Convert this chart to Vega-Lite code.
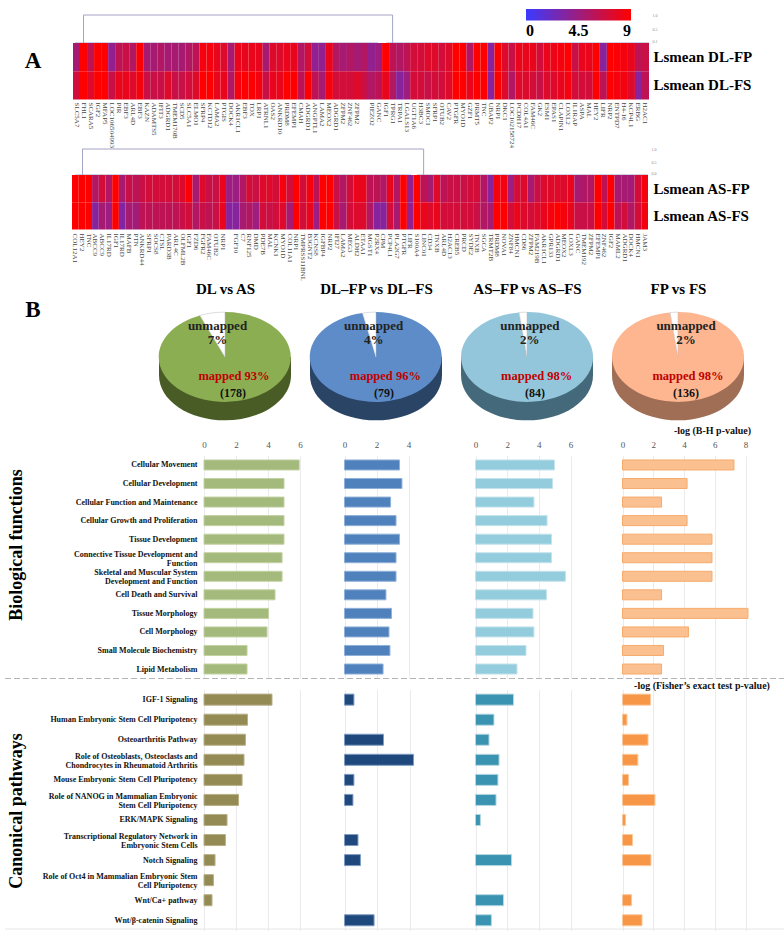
{"$schema":"https://vega.github.io/schema/vega-lite/v6.json","width":784,"height":932,"padding":0,"autosize":{"type":"none"},"background":"white",
"config":{"view":{"stroke":null},"font":"Liberation Serif","axis":{"domain":false,"ticks":false,"tickSize":0,"grid":false,"labelFont":"Liberation Serif","titleFont":"Liberation Serif","labelOverlap":false,"labelBound":false,"labelFlush":false,"labelLimit":400}},
"datasets":{
"dendA":[{"x":1.5,"x2":45.5,"h":1,"h2":1},{"x":1.5,"x2":1.5,"h":0,"h2":1},{"x":45.5,"x2":45.5,"h":0,"h2":1},{"x":0.3,"x2":43.4,"h":0,"h2":0},{"x":44.6,"x2":82,"h":0,"h2":0}],
"dendB":[{"x":1.57,"x2":52.5,"h":1,"h2":1},{"x":1.57,"x2":1.57,"h":0,"h2":1},{"x":52.5,"x2":52.5,"h":0,"h2":1},{"x":0.45,"x2":50.6,"h":0,"h2":0},{"x":51.5,"x2":86,"h":0,"h2":0}],
"heatA":[{"gene":"SLC5A7","FP":5,"FS":7},{"gene":"FHL1","FP":9,"FS":9},{"gene":"SCARA5","FP":6,"FS":7.5},{"gene":"IGF2","FP":9,"FS":9},{"gene":"MFAP5","FP":9,"FS":9},{"gene":"LOC106504993","FP":4,"FS":6.5},{"gene":"PIR","FP":6,"FS":8},{"gene":"EBF3","FP":6.5,"FS":8},{"gene":"ARL4D","FP":5.5,"FS":7.5},{"gene":"EBF3_2","FP":8.8,"FS":8.5},{"gene":"KAZN","FP":5,"FS":6.5},{"gene":"ADAMTS5","FP":5,"FS":6.5},{"gene":"IFIT3","FP":5.5,"FS":6.5},{"gene":"ADGRD1","FP":5,"FS":7.5},{"gene":"TMEM170B","FP":5,"FS":6.5},{"gene":"SCD5","FP":5,"FS":6.5},{"gene":"SLC5A1","FP":5.5,"FS":7},{"gene":"ELMO1","FP":6,"FS":7.5},{"gene":"SFRP4","FP":8.5,"FS":9},{"gene":"KCTD12","FP":8.5,"FS":9},{"gene":"LAMA2","FP":8,"FS":8},{"gene":"PTGIS","FP":7.5,"FS":8},{"gene":"DOCK4","FP":5,"FS":5.5},{"gene":"AKR1CL1","FP":8,"FS":8.5},{"gene":"EBF3_3","FP":8,"FS":9},{"gene":"TOX","FP":8,"FS":8.8},{"gene":"LRP1","FP":8,"FS":8.5},{"gene":"ATRNL1","FP":5,"FS":6.5},{"gene":"OAS2","FP":7.5,"FS":8},{"gene":"ANKRD10","FP":7.5,"FS":8},{"gene":"PRDM8","FP":8,"FS":9},{"gene":"EFEMP1","FP":8,"FS":9},{"gene":"CMAH","FP":5.5,"FS":6},{"gene":"ADGRD1_2","FP":7,"FS":9},{"gene":"ANGPTL1","FP":4,"FS":6},{"gene":"LAMA2_2","FP":4,"FS":5},{"gene":"MEOX2","FP":8,"FS":8.5},{"gene":"ADGRD1_3","FP":5.5,"FS":7},{"gene":"ZFPM2","FP":5,"FS":7},{"gene":"ZNF462","FP":5.5,"FS":7},{"gene":"ZFPM2_2","FP":5,"FS":7.5},{"gene":"_1","FP":5.5,"FS":6.5},{"gene":"PIEZO2","FP":4,"FS":5.5},{"gene":"GANC","FP":4.5,"FS":6},{"gene":"IGF1","FP":9,"FS":8},{"gene":"TPRG1","FP":6,"FS":5.5},{"gene":"TRPA1","FP":5.5,"FS":3.5},{"gene":"LGALS13","FP":6,"FS":4.5},{"gene":"UGT1A6","FP":7,"FS":7},{"gene":"H3BC3","FP":7,"FS":7},{"gene":"SMOC1","FP":7.5,"FS":6.5},{"gene":"SFRP1","FP":7.5,"FS":7},{"gene":"OTUB2","FP":7,"FS":7},{"gene":"CAV2","FP":7.5,"FS":7.5},{"gene":"PTGFR","FP":9,"FS":9},{"gene":"MYO1D","FP":9,"FS":9},{"gene":"GZF1","FP":5.5,"FS":8},{"gene":"PRMT5","FP":9,"FS":9},{"gene":"TNC","FP":9,"FS":9},{"gene":"UBAP2","FP":3.5,"FS":3.5},{"gene":"NRP1","FP":9,"FS":9},{"gene":"DKC1","FP":7.5,"FS":7.5},{"gene":"LOC102158724","FP":6.5,"FS":5.5},{"gene":"PCDH17","FP":8,"FS":7.5},{"gene":"COL4A1","FP":8,"FS":7.5},{"gene":"FAM46C","FP":8,"FS":7},{"gene":"GK2","FP":7,"FS":6.5},{"gene":"ESM1","FP":8,"FS":7.5},{"gene":"EPAS1","FP":8.2,"FS":7.5},{"gene":"CLAPIN1","FP":8.5,"FS":8},{"gene":"LOXL2","FP":9,"FS":8.5},{"gene":"IL1RAP","FP":6.5,"FS":7},{"gene":"ASPA","FP":8,"FS":7},{"gene":"MAL","FP":8,"FS":7},{"gene":"HEY2","FP":9,"FS":9},{"gene":"LIFR","FP":3.5,"FS":6},{"gene":"NRP2","FP":9,"FS":9},{"gene":"ENTPD7","FP":8.8,"FS":8.5},{"gene":"H4-16","FP":8.5,"FS":8.5},{"gene":"KCP4L1","FP":8,"FS":7.5},{"gene":"ERBG","FP":6,"FS":3.5},{"gene":"H2AC1","FP":6.5,"FS":6}],
"heatB":[{"gene":"COL12A1","FP":9,"FS":9},{"gene":"HEY2","FP":9,"FS":9},{"gene":"TNC","FP":9,"FS":9},{"gene":"ABCC9","FP":5.5,"FS":3.5},{"gene":"ABCC9_2","FP":7,"FS":5},{"gene":"IL17RD","FP":5.5,"FS":4.5},{"gene":"IGF1","FP":9,"FS":9},{"gene":"IL17RD_2","FP":5,"FS":3.3},{"gene":"MAFB","FP":6.5,"FS":5},{"gene":"PTN","FP":6,"FS":4.8},{"gene":"ANKRD44","FP":6.5,"FS":6},{"gene":"SFRP1","FP":7,"FS":6},{"gene":"SOCS8","FP":7,"FS":6},{"gene":"CTSL","FP":7,"FS":6},{"gene":"PARD3B","FP":7,"FS":6},{"gene":"ARL4C","FP":7,"FS":6},{"gene":"OLFML2B","FP":7.5,"FS":6.5},{"gene":"IGF1_2","FP":8.8,"FS":7},{"gene":"FZD6","FP":5,"FS":5.5},{"gene":"FGFR2","FP":7.5,"FS":6.5},{"gene":"FAM46C","FP":6.5,"FS":6},{"gene":"OTUB2","FP":6.5,"FS":6.5},{"gene":"NRP1","FP":8,"FS":8},{"gene":"_1","FP":4.5,"FS":3.5},{"gene":"FGF10","FP":4.5,"FS":3.5},{"gene":"C7","FP":5.5,"FS":5},{"gene":"RNF125","FP":7,"FS":5.5},{"gene":"DMD","FP":6.5,"FS":4.5},{"gene":"PDE7B","FP":7.5,"FS":7},{"gene":"MAL","FP":7.5,"FS":6.5},{"gene":"KCNK1","FP":7,"FS":7},{"gene":"MYO1D","FP":8.5,"FS":7.5},{"gene":"COL11A1","FP":7,"FS":5},{"gene":"NRP1_2","FP":9,"FS":9},{"gene":"TMPRSS11BNL","FP":7,"FS":7},{"gene":"B3GNT2","FP":8.5,"FS":8},{"gene":"KCNS8","FP":6,"FS":4.5},{"gene":"IGFBP4","FP":9,"FS":9},{"gene":"NRP2","FP":9,"FS":9},{"gene":"IFI27","FP":6.5,"FS":6.5},{"gene":"LAMA2","FP":5.5,"FS":5},{"gene":"MEG3","FP":7,"FS":7},{"gene":"ALDH2","FP":8,"FS":7.5},{"gene":"ETAA1","FP":8,"FS":7.5},{"gene":"MGST1","FP":6,"FS":5.5},{"gene":"P2RX4","FP":6,"FS":3.5},{"gene":"CPM","FP":5.5,"FS":3.5},{"gene":"PCP4L1","FP":8,"FS":7},{"gene":"PLA2G7","FP":5.5,"FS":5},{"gene":"PTGFR","FP":9,"FS":9},{"gene":"LIFR","FP":4,"FS":4},{"gene":"S100A4","FP":9,"FS":9},{"gene":"LINC01","FP":6,"FS":8},{"gene":"CD34","FP":5,"FS":7.5},{"gene":"TNXB","FP":7.5,"FS":8},{"gene":"ARL4D","FP":6,"FS":7},{"gene":"H2AC13","FP":6.5,"FS":7},{"gene":"CREB5","FP":6.5,"FS":7},{"gene":"PRCD","FP":6.5,"FS":7},{"gene":"SYDE2","FP":7,"FS":7},{"gene":"TNXB_2","FP":7,"FS":6.5},{"gene":"SGCA","FP":5.5,"FS":5.5},{"gene":"TRMT2B","FP":3.5,"FS":5},{"gene":"PRDM8","FP":8.5,"FS":9},{"gene":"NOVA1","FP":8.5,"FS":9},{"gene":"ZNF84","FP":4.5,"FS":7},{"gene":"HMCN1","FP":7,"FS":8},{"gene":"CD86","FP":7.5,"FS":7.5},{"gene":"ZFPM2","FP":5,"FS":7},{"gene":"FAM219B","FP":6.5,"FS":7.5},{"gene":"AKR1CL1","FP":7.5,"FS":8},{"gene":"GPR133","FP":7.5,"FS":8.5},{"gene":"ADGRD1","FP":7.5,"FS":9},{"gene":"MEOX2","FP":7.5,"FS":8.5},{"gene":"LOXL3","FP":8,"FS":8},{"gene":"GANC","FP":5,"FS":6.5},{"gene":"TMEM192","FP":5.5,"FS":6.5},{"gene":"ZFPM2_2","FP":5.5,"FS":6.5},{"gene":"EFEMP1","FP":9,"FS":9},{"gene":"ZNF462","FP":6,"FS":7},{"gene":"IGF2","FP":9,"FS":9},{"gene":"MAML2","FP":5,"FS":6},{"gene":"ADGRD1_2","FP":5,"FS":7},{"gene":"DOCK4","FP":4.8,"FS":5.5},{"gene":"HMCN1_2","FP":7,"FS":7},{"gene":"JAM3","FP":8.5,"FS":8.5}],
"pies":[{"comparison":"DL vs AS","part":"mapped","slice":"mapped 93%","count":"(178)"},{"comparison":"DL–FP vs DL–FS","part":"mapped","slice":"mapped 96%","count":"(79)"},{"comparison":"AS–FP vs AS–FS","part":"mapped","slice":"mapped 98%","count":"(84)"},{"comparison":"FP vs FS","part":"mapped","slice":"mapped 98%","count":"(136)"},{"comparison":"DL vs AS","part":"unmapped","slice":"unmapped 7%","percent":"7%"},{"comparison":"DL–FP vs DL–FS","part":"unmapped","slice":"unmapped 4%","percent":"4%"},{"comparison":"AS–FP vs AS–FS","part":"unmapped","slice":"unmapped 2%","percent":"2%"},{"comparison":"FP vs FS","part":"unmapped","slice":"unmapped 2%","percent":"2%"}],
"bio":[
{"c":"DL vs AS","term":"Cellular Movement","value":5.95},{"c":"DL vs AS","term":"Cellular Development","value":5.0},{"c":"DL vs AS","term":"Cellular Function and Maintenance","value":5.0},{"c":"DL vs AS","term":"Cellular Growth and Proliferation","value":5.0},{"c":"DL vs AS","term":"Tissue Development","value":5.0},{"c":"DL vs AS","term":"Connective Tissue Development and|Function","value":4.88},{"c":"DL vs AS","term":"Skeletal and Muscular System|Development and Function","value":4.88},{"c":"DL vs AS","term":"Cell Death and Survival","value":4.44},{"c":"DL vs AS","term":"Tissue Morphology","value":4.03},{"c":"DL vs AS","term":"Cell Morphology","value":3.94},{"c":"DL vs AS","term":"Small Molecule Biochemistry","value":2.69},{"c":"DL vs AS","term":"Lipid Metabolism","value":2.69},
{"c":"DL–FP vs DL–FS","term":"Cellular Movement","value":3.44},{"c":"DL–FP vs DL–FS","term":"Cellular Development","value":3.59},{"c":"DL–FP vs DL–FS","term":"Cellular Function and Maintenance","value":2.88},{"c":"DL–FP vs DL–FS","term":"Cellular Growth and Proliferation","value":3.22},{"c":"DL–FP vs DL–FS","term":"Tissue Development","value":3.44},{"c":"DL–FP vs DL–FS","term":"Connective Tissue Development and|Function","value":3.22},{"c":"DL–FP vs DL–FS","term":"Skeletal and Muscular System|Development and Function","value":3.22},{"c":"DL–FP vs DL–FS","term":"Cell Death and Survival","value":2.59},{"c":"DL–FP vs DL–FS","term":"Tissue Morphology","value":2.94},{"c":"DL–FP vs DL–FS","term":"Cell Morphology","value":2.78},{"c":"DL–FP vs DL–FS","term":"Small Molecule Biochemistry","value":2.84},{"c":"DL–FP vs DL–FS","term":"Lipid Metabolism","value":2.41},
{"c":"AS–FP vs AS–FS","term":"Cellular Movement","value":4.99},{"c":"AS–FP vs AS–FS","term":"Cellular Development","value":4.86},{"c":"AS–FP vs AS–FS","term":"Cellular Function and Maintenance","value":3.69},{"c":"AS–FP vs AS–FS","term":"Cellular Growth and Proliferation","value":4.52},{"c":"AS–FP vs AS–FS","term":"Tissue Development","value":4.8},{"c":"AS–FP vs AS–FS","term":"Connective Tissue Development and|Function","value":4.8},{"c":"AS–FP vs AS–FS","term":"Skeletal and Muscular System|Development and Function","value":5.68},{"c":"AS–FP vs AS–FS","term":"Cell Death and Survival","value":4.48},{"c":"AS–FP vs AS–FS","term":"Tissue Morphology","value":3.63},{"c":"AS–FP vs AS–FS","term":"Cell Morphology","value":3.69},{"c":"AS–FP vs AS–FS","term":"Small Molecule Biochemistry","value":3.19},{"c":"AS–FP vs AS–FS","term":"Lipid Metabolism","value":2.62},
{"c":"FP vs FS","term":"Cellular Movement","value":7.25},{"c":"FP vs FS","term":"Cellular Development","value":4.2},{"c":"FP vs FS","term":"Cellular Function and Maintenance","value":2.54},{"c":"FP vs FS","term":"Cellular Growth and Proliferation","value":4.2},{"c":"FP vs FS","term":"Tissue Development","value":5.82},{"c":"FP vs FS","term":"Connective Tissue Development and|Function","value":5.82},{"c":"FP vs FS","term":"Skeletal and Muscular System|Development and Function","value":5.82},{"c":"FP vs FS","term":"Cell Death and Survival","value":2.54},{"c":"FP vs FS","term":"Tissue Morphology","value":8.16},{"c":"FP vs FS","term":"Cell Morphology","value":4.29},{"c":"FP vs FS","term":"Small Molecule Biochemistry","value":2.67},{"c":"FP vs FS","term":"Lipid Metabolism","value":2.54}],
"canon":[
{"c":"DL vs AS","term":"IGF-1 Signaling","value":4.25},{"c":"DL vs AS","term":"Human Embryonic Stem Cell Pluripotency","value":2.72},{"c":"DL vs AS","term":"Osteoarthritis Pathway","value":2.59},{"c":"DL vs AS","term":"Role of Osteoblasts, Osteoclasts and|Chondrocytes in Rheumatoid Arthritis","value":2.5},{"c":"DL vs AS","term":"Mouse Embryonic Stem Cell Pluripotency","value":2.38},{"c":"DL vs AS","term":"Role of NANOG in Mammalian Embryonic|Stem Cell Pluripotency","value":2.16},{"c":"DL vs AS","term":"ERK/MAPK Signaling","value":1.44},{"c":"DL vs AS","term":"Transcriptional Regulatory Network in|Embryonic Stem Cells","value":1.34},{"c":"DL vs AS","term":"Notch Signaling","value":0.69},{"c":"DL vs AS","term":"Role of Oct4 in Mammalian Embryonic Stem|Cell Pluripotency","value":0.59},{"c":"DL vs AS","term":"Wnt/Ca+ pathway","value":0.5},
{"c":"DL–FP vs DL–FS","term":"IGF-1 Signaling","value":0.58},{"c":"DL–FP vs DL–FS","term":"Osteoarthritis Pathway","value":2.4},{"c":"DL–FP vs DL–FS","term":"Role of Osteoblasts, Osteoclasts and|Chondrocytes in Rheumatoid Arthritis","value":4.25},{"c":"DL–FP vs DL–FS","term":"Mouse Embryonic Stem Cell Pluripotency","value":0.58},{"c":"DL–FP vs DL–FS","term":"Role of NANOG in Mammalian Embryonic|Stem Cell Pluripotency","value":0.52},{"c":"DL–FP vs DL–FS","term":"Transcriptional Regulatory Network in|Embryonic Stem Cells","value":0.83},{"c":"DL–FP vs DL–FS","term":"Notch Signaling","value":0.98},{"c":"DL–FP vs DL–FS","term":"Wnt/β-catenin Signaling","value":1.82},
{"c":"AS–FP vs AS–FS","term":"IGF-1 Signaling","value":2.39},{"c":"AS–FP vs AS–FS","term":"Human Embryonic Stem Cell Pluripotency","value":1.16},{"c":"AS–FP vs AS–FS","term":"Osteoarthritis Pathway","value":0.85},{"c":"AS–FP vs AS–FS","term":"Role of Osteoblasts, Osteoclasts and|Chondrocytes in Rheumatoid Arthritis","value":1.48},{"c":"AS–FP vs AS–FS","term":"Mouse Embryonic Stem Cell Pluripotency","value":1.41},{"c":"AS–FP vs AS–FS","term":"Role of NANOG in Mammalian Embryonic|Stem Cell Pluripotency","value":1.29},{"c":"AS–FP vs AS–FS","term":"ERK/MAPK Signaling","value":0.31},{"c":"AS–FP vs AS–FS","term":"Notch Signaling","value":2.26},{"c":"AS–FP vs AS–FS","term":"Wnt/Ca+ pathway","value":1.76},{"c":"AS–FP vs AS–FS","term":"Wnt/β-catenin Signaling","value":1.0},
{"c":"FP vs FS","term":"IGF-1 Signaling","value":1.82},{"c":"FP vs FS","term":"Human Embryonic Stem Cell Pluripotency","value":0.29},{"c":"FP vs FS","term":"Osteoarthritis Pathway","value":1.66},{"c":"FP vs FS","term":"Role of Osteoblasts, Osteoclasts and|Chondrocytes in Rheumatoid Arthritis","value":1.0},{"c":"FP vs FS","term":"Mouse Embryonic Stem Cell Pluripotency","value":0.39},{"c":"FP vs FS","term":"Role of NANOG in Mammalian Embryonic|Stem Cell Pluripotency","value":2.11},{"c":"FP vs FS","term":"ERK/MAPK Signaling","value":0.2},{"c":"FP vs FS","term":"Transcriptional Regulatory Network in|Embryonic Stem Cells","value":0.65},{"c":"FP vs FS","term":"Notch Signaling","value":1.85},{"c":"FP vs FS","term":"Wnt/Ca+ pathway","value":0.59},{"c":"FP vs FS","term":"Wnt/β-catenin Signaling","value":1.27}]
},
"resolve":{"scale":{"x":"independent","y":"independent","color":"independent","shape":"independent"},"axis":{"x":"independent","y":"independent"},"legend":{"color":"independent","shape":"independent"}},
"layer":[
{"data":{"name":"dendA"},"mark":{"type":"rule","color":"#a3a3c6","strokeWidth":1},"encoding":{"x":{"field":"x","type":"quantitative","scale":{"domain":[0,82],"range":[73,649],"nice":false},"axis":null},"x2":{"field":"x2"},"y":{"field":"h","type":"quantitative","scale":{"domain":[0,1],"range":[43,15],"nice":false},"axis":{"orient":"right","title":null,"values":[0.07,0.5,1],"format":".1f","labelPadding":-132,"labelFontSize":4,"labelColor":"#888888","labelAlign":"left"}},"y2":{"field":"h2"}}},
{"data":{"name":"heatA"},"transform":[{"fold":["FP","FS"],"as":["sample","value"]}],"mark":{"type":"rect"},"encoding":{"x":{"field":"gene","type":"nominal","sort":null,"scale":{"type":"band","range":[73,649],"paddingInner":0,"paddingOuter":0},"axis":{"orient":"bottom","title":null,"labelExpr":"split(datum.label,'_')[0]","labelAngle":90,"labelAlign":"left","labelBaseline":"middle","labelPadding":-830,"labelFontSize":7,"labelColor":"#444444"}},"y":{"field":"sample","type":"nominal","scale":{"type":"band","domain":["FP","FS"],"range":[43,99.5],"paddingInner":0,"paddingOuter":0},"axis":{"orient":"right","title":null,"labelExpr":"'Lsmean DL-'+datum.label","labelPadding":-131,"labelAlign":"left","labelFontSize":15,"labelFontWeight":"bold","labelColor":"black"}},"color":{"field":"value","type":"quantitative","scale":{"domain":[0,9],"range":["#3a3aff","#ff0000"],"interpolate":"rgb","nice":false},"legend":{"orient":"none","legendX":526,"legendY":9,"direction":"horizontal","gradientLength":105,"gradientThickness":11.5,"title":null,"values":[0,4.5,9],"format":".1~f","labelFont":"Liberation Serif","labelFontWeight":"bold","labelFontSize":16,"labelColor":"black"}}}},
{"data":{"name":"dendB"},"mark":{"type":"rule","color":"#a3a3c6","strokeWidth":1},"encoding":{"x":{"field":"x","type":"quantitative","scale":{"domain":[0,86],"range":[72,648],"nice":false},"axis":null},"x2":{"field":"x2"},"y":{"field":"h","type":"quantitative","scale":{"domain":[0,1],"range":[175,149],"nice":false},"axis":{"orient":"right","title":null,"values":[0.04,0.5,1],"format":".1f","labelPadding":-133,"labelFontSize":4,"labelColor":"#888888","labelAlign":"left"}},"y2":{"field":"h2"}}},
{"data":{"name":"heatB"},"transform":[{"fold":["FP","FS"],"as":["sample","value"]}],"mark":{"type":"rect"},"encoding":{"x":{"field":"gene","type":"nominal","sort":null,"scale":{"type":"band","range":[72,648],"paddingInner":0,"paddingOuter":0},"axis":{"orient":"bottom","title":null,"labelExpr":"split(datum.label,'_')[0]","labelAngle":90,"labelAlign":"left","labelBaseline":"middle","labelPadding":-699,"labelFontSize":7,"labelColor":"#444444"}},"y":{"field":"sample","type":"nominal","scale":{"type":"band","domain":["FP","FS"],"range":[175,229.5],"paddingInner":0,"paddingOuter":0},"axis":{"orient":"right","title":null,"labelExpr":"'Lsmean AS-'+datum.label","labelPadding":-131,"labelAlign":"left","labelFontSize":15,"labelFontWeight":"bold","labelColor":"black"}},"color":{"field":"value","type":"quantitative","scale":{"domain":[0,9],"range":["#3a3aff","#ff0000"],"interpolate":"rgb","nice":false},"legend":null}}},
{"data":{"name":"pies"},"transform":[{"filter":"datum.part==='mapped'"}],"mark":{"type":"point","filled":true,"opacity":1,"strokeWidth":0},"encoding":{"x":{"field":"comparison","type":"nominal","sort":null,"scale":{"type":"point","range":[225,678],"padding":0},"axis":null},"y":{"field":"comparison","type":"nominal","sort":null,"scale":{"type":"point","range":[357,357],"padding":0},"axis":null},"size":{"value":17424},"shape":{"value":"M-1,0 L-1,0.28 A1,0.68 0 0 0 1,0.28 L1,0 Z"},"color":{"field":"comparison","type":"nominal","sort":null,"scale":{"range":["#4a5c26","#2a4466","#44697a","#a06e55"]},"legend":null}}},
{"data":{"name":"pies"},"transform":[{"filter":"datum.part==='mapped'"}],"mark":{"type":"point","filled":true,"opacity":1,"strokeWidth":0},"encoding":{"x":{"field":"comparison","type":"nominal","sort":null,"scale":{"type":"point","range":[225,678],"padding":0},"axis":{"orient":"top","title":null,"labelPadding":-296,"labelAngle":0,"labelAlign":"center","labelBaseline":"bottom","labelFontSize":15,"labelFontWeight":"bold","labelColor":"black"}},"y":{"field":"comparison","type":"nominal","sort":null,"scale":{"type":"point","range":[357,357],"padding":0},"axis":null},"size":{"value":17424},"shape":{"field":"slice","type":"nominal","scale":{"domain":["mapped 93%","mapped 96%","mapped 98%"],"range":["M0,0 L0,-0.68 A1,0.68 0 1 1 -0.38,-0.63 Z","M0,0 L0,-0.68 A1,0.68 0 1 1 -0.205,-0.666 Z","M0,0 L0,-0.68 A1,0.68 0 1 1 -0.12,-0.675 Z"]},"legend":null},"color":{"field":"comparison","type":"nominal","sort":null,"scale":{"range":["#8cae52","#5e8cc8","#93c6da","#fdb690"]},"legend":null}}},
{"data":{"name":"pies"},"transform":[{"filter":"datum.part==='unmapped'"}],"mark":{"type":"point","filled":true,"opacity":1,"color":"white","stroke":"#bbbbbb","strokeWidth":0.5},"encoding":{"x":{"field":"comparison","type":"nominal","sort":null,"scale":{"type":"point","range":[225,678],"padding":0},"axis":null},"y":{"field":"comparison","type":"nominal","sort":null,"scale":{"type":"point","range":[357,357],"padding":0},"axis":null},"size":{"value":17424},"shape":{"field":"slice","type":"nominal","scale":{"domain":["unmapped 7%","unmapped 4%","unmapped 2%"],"range":["M0,0 L-0.38,-0.63 A1,0.68 0 0 1 0,-0.68 Z","M0,0 L-0.205,-0.666 A1,0.68 0 0 1 0,-0.68 Z","M0,0 L-0.12,-0.675 A1,0.68 0 0 1 0,-0.68 Z"]},"legend":null}}},
{"data":{"name":"pies"},"transform":[{"filter":"datum.part==='unmapped'"}],"mark":{"type":"text","fontSize":13,"fontWeight":"bold","font":"Liberation Serif","color":"#222222"},"encoding":{"x":{"field":"comparison","type":"nominal","sort":null,"scale":{"type":"point","range":[217.5,686],"padding":0},"axis":null},"y":{"field":"comparison","type":"nominal","sort":null,"scale":{"type":"point","range":[325.5,325.5],"padding":0},"axis":null},"text":{"field":"part"}}},
{"data":{"name":"pies"},"transform":[{"filter":"datum.part==='unmapped'"}],"mark":{"type":"text","fontSize":13,"fontWeight":"bold","font":"Liberation Serif","color":"#222222"},"encoding":{"x":{"field":"comparison","type":"nominal","sort":null,"scale":{"type":"point","range":[217.5,686],"padding":0},"axis":null},"y":{"field":"comparison","type":"nominal","sort":null,"scale":{"type":"point","range":[340,340],"padding":0},"axis":null},"text":{"field":"percent"}}},
{"data":{"name":"pies"},"transform":[{"filter":"datum.part==='mapped'"}],"mark":{"type":"text","fontSize":12.5,"fontWeight":"bold","font":"Liberation Serif","color":"#c00000"},"encoding":{"x":{"field":"comparison","type":"nominal","sort":null,"scale":{"type":"point","range":[234,688],"padding":0},"axis":null},"y":{"field":"comparison","type":"nominal","sort":null,"scale":{"type":"point","range":[376,376],"padding":0},"axis":null},"text":{"field":"slice"}}},
{"data":{"name":"pies"},"transform":[{"filter":"datum.part==='mapped'"}],"mark":{"type":"text","fontSize":12,"fontWeight":"bold","font":"Liberation Serif","color":"#111111"},"encoding":{"x":{"field":"comparison","type":"nominal","sort":null,"scale":{"type":"point","range":[233,686],"padding":0},"axis":null},"y":{"field":"comparison","type":"nominal","sort":null,"scale":{"type":"point","range":[393,393],"padding":0},"axis":null},"text":{"field":"count"}}},
{"data":{"values":[{"panel":"A"},{"panel":"B"}]},"mark":{"type":"text","fontSize":23,"fontWeight":"bold","font":"Liberation Serif","color":"black"},"encoding":{"x":{"field":"panel","type":"nominal","scale":{"type":"point","range":[33,33],"padding":0},"axis":null},"y":{"field":"panel","type":"nominal","scale":{"type":"point","range":[60.5,310],"padding":0},"axis":null},"text":{"field":"panel"}}},
{"data":{"values":[{"note":"-log (B-H p-value)"},{"note":"-log (Fisher’s exact test p-value)"}]},"mark":{"type":"text","fontSize":10,"fontWeight":"bold","font":"Liberation Serif","color":"#111111"},"encoding":{"x":{"field":"note","type":"nominal","sort":null,"scale":{"type":"point","range":[712.5,702],"padding":0},"axis":null},"y":{"field":"note","type":"nominal","sort":null,"scale":{"type":"point","range":[431,686],"padding":0},"axis":null},"text":{"field":"note"}}},
{"data":{"name":"bio"},"transform":[{"filter":"datum.c==='DL vs AS'"}],"mark":{"type":"bar","color":"#a4b97c","stroke":"#c3d2a2","strokeWidth":1},"encoding":{"x":{"field":"value","type":"quantitative","scale":{"domain":[0,6],"range":[204,300],"nice":false},"axis":{"orient":"top","title":null,"values":[0,2,4,6],"grid":true,"gridColor":"#ebebef","labelPadding":-449,"labelFontSize":9,"labelColor":"#555555"}},"y":{"field":"term","type":"nominal","sort":null,"scale":{"type":"band","range":[455.7,678.3],"paddingInner":0.46,"paddingOuter":0.23},"axis":{"orient":"left","title":"Biological functions","titleX":16,"titleY":544.5,"titleAngle":-90,"titleAlign":"center","titleBaseline":"middle","titleFontSize":18,"titleFontWeight":"bold","titleColor":"black","labelPadding":-197,"labelFontSize":8,"labelFontWeight":"bold","labelColor":"#111111","labelLineHeight":9,"encoding":{"labels":{"dy":{"condition":{"test":"length(split(datum.label,'|'))>=2","value":-3.2},"value":0.5}}},"labelExpr":"length(split(datum.label,'|'))<2?datum.label:[split(datum.label,'|')[0],pad(split(datum.label,'|')[1],round(0.06*length(split(datum.label,'|')[1])+0.94*length(split(datum.label,'|')[0])),'\u00a0')]"}}}},
{"data":{"name":"bio"},"transform":[{"filter":"datum.c==='DL–FP vs DL–FS'"}],"mark":{"type":"bar","color":"#4f81bd","stroke":"#8fb0d8","strokeWidth":1},"encoding":{"x":{"field":"value","type":"quantitative","scale":{"domain":[0,4],"range":[344.5,408.5],"nice":false},"axis":{"orient":"top","title":null,"values":[0,2,4],"grid":true,"gridColor":"#ebebef","labelPadding":-449,"labelFontSize":9,"labelColor":"#555555"}},"y":{"field":"term","type":"nominal","sort":null,"scale":{"type":"band","range":[455.7,678.3],"paddingInner":0.46,"paddingOuter":0.23},"axis":null}}},
{"data":{"name":"bio"},"transform":[{"filter":"datum.c==='AS–FP vs AS–FS'"}],"mark":{"type":"bar","color":"#93cddd","stroke":"#c4e3ec","strokeWidth":1},"encoding":{"x":{"field":"value","type":"quantitative","scale":{"domain":[0,6],"range":[475.5,570.5],"nice":false},"axis":{"orient":"top","title":null,"values":[0,2,4,6],"grid":true,"gridColor":"#ebebef","labelPadding":-449,"labelFontSize":9,"labelColor":"#555555"}},"y":{"field":"term","type":"nominal","sort":null,"scale":{"type":"band","range":[455.7,678.3],"paddingInner":0.46,"paddingOuter":0.23},"axis":null}}},
{"data":{"name":"bio"},"transform":[{"filter":"datum.c==='FP vs FS'"}],"mark":{"type":"bar","color":"#fac090","stroke":"#f6ab6c","strokeWidth":1},"encoding":{"x":{"field":"value","type":"quantitative","scale":{"domain":[0,8],"range":[622.5,745.5],"nice":false},"axis":{"orient":"top","title":null,"values":[0,2,4,6,8],"grid":true,"gridColor":"#ebebef","labelPadding":-449,"labelFontSize":9,"labelColor":"#555555"}},"y":{"field":"term","type":"nominal","sort":null,"scale":{"type":"band","range":[455.7,678.3],"paddingInner":0.46,"paddingOuter":0.23},"axis":null}}},
{"data":{"name":"canon"},"transform":[{"filter":"datum.c==='DL vs AS'"}],"mark":{"type":"bar","color":"#948a54","stroke":"#b8b088","strokeWidth":1},"encoding":{"x":{"field":"value","type":"quantitative","scale":{"domain":[0,6],"range":[204,300],"nice":false},"axis":{"orient":"top","title":null,"values":[0,2,4,6],"grid":true,"gridColor":"#ebebef","labels":false}},"y":{"field":"term","type":"nominal","scale":{"type":"band","domain":["IGF-1 Signaling","Human Embryonic Stem Cell Pluripotency","Osteoarthritis Pathway","Role of Osteoblasts, Osteoclasts and|Chondrocytes in Rheumatoid Arthritis","Mouse Embryonic Stem Cell Pluripotency","Role of NANOG in Mammalian Embryonic|Stem Cell Pluripotency","ERK/MAPK Signaling","Transcriptional Regulatory Network in|Embryonic Stem Cells","Notch Signaling","Role of Oct4 in Mammalian Embryonic Stem|Cell Pluripotency","Wnt/Ca+ pathway","Wnt/β-catenin Signaling"],"range":[689.6,930.3],"paddingInner":0.45,"paddingOuter":0.225},"axis":{"orient":"left","title":"Canonical pathways","titleX":16,"titleY":810.5,"titleAngle":-90,"titleAlign":"center","titleBaseline":"middle","titleFontSize":18,"titleFontWeight":"bold","titleColor":"black","labelPadding":-197,"labelFontSize":8,"labelFontWeight":"bold","labelColor":"#111111","labelLineHeight":9,"encoding":{"labels":{"dy":{"condition":{"test":"length(split(datum.label,'|'))>=2","value":-3.2},"value":0.5}}},"labelExpr":"length(split(datum.label,'|'))<2?datum.label:[split(datum.label,'|')[0],pad(split(datum.label,'|')[1],round(0.06*length(split(datum.label,'|')[1])+0.94*length(split(datum.label,'|')[0])),'\u00a0')]"}}}},
{"data":{"name":"canon"},"transform":[{"filter":"datum.c==='DL–FP vs DL–FS'"}],"mark":{"type":"bar","color":"#1f497d","stroke":"#7f9cc2","strokeWidth":1},"encoding":{"x":{"field":"value","type":"quantitative","scale":{"domain":[0,4],"range":[344.5,409.5],"nice":false},"axis":{"orient":"top","title":null,"values":[0,2,4],"grid":true,"gridColor":"#ebebef","labels":false}},"y":{"field":"term","type":"nominal","scale":{"type":"band","domain":["IGF-1 Signaling","Human Embryonic Stem Cell Pluripotency","Osteoarthritis Pathway","Role of Osteoblasts, Osteoclasts and|Chondrocytes in Rheumatoid Arthritis","Mouse Embryonic Stem Cell Pluripotency","Role of NANOG in Mammalian Embryonic|Stem Cell Pluripotency","ERK/MAPK Signaling","Transcriptional Regulatory Network in|Embryonic Stem Cells","Notch Signaling","Role of Oct4 in Mammalian Embryonic Stem|Cell Pluripotency","Wnt/Ca+ pathway","Wnt/β-catenin Signaling"],"range":[689.6,930.3],"paddingInner":0.45,"paddingOuter":0.225},"axis":null}}},
{"data":{"name":"canon"},"transform":[{"filter":"datum.c==='AS–FP vs AS–FS'"}],"mark":{"type":"bar","color":"#3a93b0","stroke":"#b5d8e3","strokeWidth":1},"encoding":{"x":{"field":"value","type":"quantitative","scale":{"domain":[0,6],"range":[475.5,571],"nice":false},"axis":{"orient":"top","title":null,"values":[0,2,4,6],"grid":true,"gridColor":"#ebebef","labels":false}},"y":{"field":"term","type":"nominal","scale":{"type":"band","domain":["IGF-1 Signaling","Human Embryonic Stem Cell Pluripotency","Osteoarthritis Pathway","Role of Osteoblasts, Osteoclasts and|Chondrocytes in Rheumatoid Arthritis","Mouse Embryonic Stem Cell Pluripotency","Role of NANOG in Mammalian Embryonic|Stem Cell Pluripotency","ERK/MAPK Signaling","Transcriptional Regulatory Network in|Embryonic Stem Cells","Notch Signaling","Role of Oct4 in Mammalian Embryonic Stem|Cell Pluripotency","Wnt/Ca+ pathway","Wnt/β-catenin Signaling"],"range":[689.6,930.3],"paddingInner":0.45,"paddingOuter":0.225},"axis":null}}},
{"data":{"name":"canon"},"transform":[{"filter":"datum.c==='FP vs FS'"}],"mark":{"type":"bar","color":"#f79646","stroke":"#fbc89b","strokeWidth":1},"encoding":{"x":{"field":"value","type":"quantitative","scale":{"domain":[0,8],"range":[622.5,745.5],"nice":false},"axis":{"orient":"top","title":null,"values":[0,2,4,6,8],"grid":true,"gridColor":"#ebebef","labels":false}},"y":{"field":"term","type":"nominal","scale":{"type":"band","domain":["IGF-1 Signaling","Human Embryonic Stem Cell Pluripotency","Osteoarthritis Pathway","Role of Osteoblasts, Osteoclasts and|Chondrocytes in Rheumatoid Arthritis","Mouse Embryonic Stem Cell Pluripotency","Role of NANOG in Mammalian Embryonic|Stem Cell Pluripotency","ERK/MAPK Signaling","Transcriptional Regulatory Network in|Embryonic Stem Cells","Notch Signaling","Role of Oct4 in Mammalian Embryonic Stem|Cell Pluripotency","Wnt/Ca+ pathway","Wnt/β-catenin Signaling"],"range":[689.6,930.3],"paddingInner":0.45,"paddingOuter":0.225},"axis":null}}},
{"data":{"values":[{"line":"section break"}]},"mark":{"type":"rule","color":"#b5b5b5","strokeWidth":1.2,"strokeDash":[6,3]},"encoding":{"x":{"datum":0,"type":"quantitative","scale":{"domain":[0,1],"range":[5,784],"nice":false},"axis":null},"x2":{"datum":1},"y":{"field":"line","type":"nominal","scale":{"type":"point","range":[678.5,678.5],"padding":0},"axis":null}}},
{"data":{"values":[{"line":"chart end"}]},"mark":{"type":"rule","color":"#e6e6e6","strokeWidth":1},"encoding":{"x":{"datum":0,"type":"quantitative","scale":{"domain":[0,1],"range":[5,784],"nice":false},"axis":null},"x2":{"datum":1},"y":{"field":"line","type":"nominal","scale":{"type":"point","range":[929,929],"padding":0},"axis":null}}}
]}
